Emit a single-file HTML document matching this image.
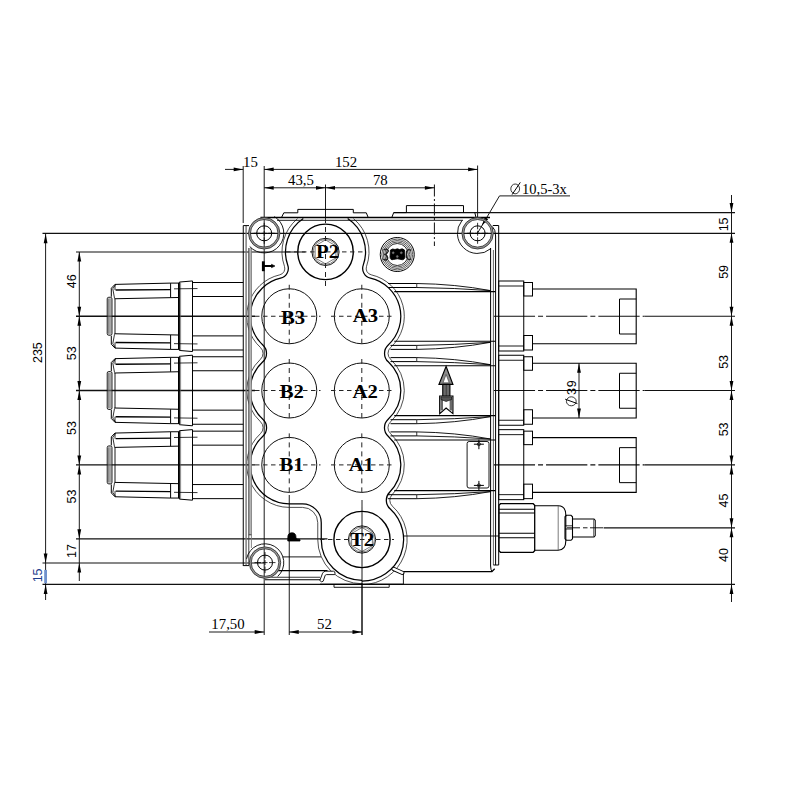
<!DOCTYPE html>
<html><head><meta charset="utf-8"><style>
html,body{margin:0;padding:0;background:#fff;}
svg{display:block;}
</style></head><body>
<svg width="800" height="800" viewBox="0 0 800 800">
<rect width="800" height="800" fill="#fff"/>
<line x1="243.2" y1="166" x2="243.2" y2="223" stroke="#000" stroke-width="0.9"/><line x1="264.2" y1="166" x2="264.2" y2="635" stroke="#000" stroke-width="0.9"/><line x1="477.6" y1="165.5" x2="477.6" y2="217" stroke="#000" stroke-width="0.9"/><line x1="325.5" y1="184.5" x2="325.5" y2="218" stroke="#000" stroke-width="0.9"/><line x1="434.4" y1="184.5" x2="434.4" y2="246" stroke="#111" stroke-width="1.0" stroke-dasharray="12 2.5 2 2.5"/><line x1="225" y1="169.4" x2="243.2" y2="169.4" stroke="#000" stroke-width="0.9"/><path d="M243.2 169.4 L233.7 171.3 L233.7 167.5 Z" fill="#000"/><line x1="264.2" y1="169.4" x2="477.6" y2="169.4" stroke="#000" stroke-width="0.9"/><path d="M264.2 169.4 L273.7 167.5 L273.7 171.3 Z" fill="#000"/><path d="M477.6 169.4 L468.1 171.3 L468.1 167.5 Z" fill="#000"/><line x1="264.2" y1="187.8" x2="434.4" y2="187.8" stroke="#000" stroke-width="0.9"/><path d="M264.2 187.8 L273.7 185.9 L273.7 189.7 Z" fill="#000"/><path d="M325.5 187.8 L316 189.7 L316 185.9 Z" fill="#000"/><path d="M325.5 187.8 L335 185.9 L335 189.7 Z" fill="#000"/><path d="M434.4 187.8 L424.9 189.7 L424.9 185.9 Z" fill="#000"/><text x="250.5" y="166.5" font-family="'Liberation Serif', serif" font-size="14.8" font-weight="normal" text-anchor="middle" fill="#000">15</text><text x="346" y="166.5" font-family="'Liberation Serif', serif" font-size="14.8" font-weight="normal" text-anchor="middle" fill="#000">152</text><text x="301" y="184.8" font-family="'Liberation Serif', serif" font-size="14.8" font-weight="normal" text-anchor="middle" fill="#000">43,5</text><text x="380.3" y="184.8" font-family="'Liberation Serif', serif" font-size="14.8" font-weight="normal" text-anchor="middle" fill="#000">78</text><line x1="477.6" y1="233" x2="499.5" y2="195.9" stroke="#000" stroke-width="0.9"/><line x1="499.5" y1="195.9" x2="570" y2="195.9" stroke="#000" stroke-width="0.9"/><path d="M481.8 225.8 L484.79 217.08 L488.2 219.17 Z" fill="#000"/><ellipse cx="515.2" cy="188.9" rx="4.4" ry="4.9" stroke="#222" stroke-width="0.9" fill="none"/><line x1="520.3" y1="182.4" x2="512.1" y2="194.6" stroke="#000" stroke-width="1.0"/><text x="544.4" y="193.5" font-family="'Liberation Serif', serif" font-size="14.5" font-weight="normal" text-anchor="middle" fill="#000">10,5-3x</text><line x1="731.5" y1="195" x2="731.5" y2="602" stroke="#000" stroke-width="0.9"/><line x1="393.7" y1="212.6" x2="735" y2="212.6" stroke="#111" stroke-width="1.1"/><line x1="42.5" y1="233.3" x2="735" y2="233.3" stroke="#111" stroke-width="1.2"/><path d="M731.5 212.6 L729.6 203.1 L733.4 203.1 Z" fill="#000"/><path d="M731.5 233.3 L733.4 242.8 L729.6 242.8 Z" fill="#000"/><path d="M731.5 316.25 L729.6 306.75 L733.4 306.75 Z" fill="#000"/><path d="M731.5 316.25 L733.4 325.75 L729.6 325.75 Z" fill="#000"/><path d="M731.5 390.5 L729.6 381 L733.4 381 Z" fill="#000"/><path d="M731.5 390.5 L733.4 400 L729.6 400 Z" fill="#000"/><path d="M731.5 464.9 L729.6 455.4 L733.4 455.4 Z" fill="#000"/><path d="M731.5 464.9 L733.4 474.4 L729.6 474.4 Z" fill="#000"/><path d="M731.5 527.8 L729.6 518.3 L733.4 518.3 Z" fill="#000"/><path d="M731.5 527.8 L733.4 537.3 L729.6 537.3 Z" fill="#000"/><path d="M731.5 584.4 L733.4 593.9 L729.6 593.9 Z" fill="#000"/><text x="728" y="224.4" font-family="'Liberation Sans', sans-serif" font-size="12.5" font-weight="normal" text-anchor="middle" fill="#000" transform="rotate(-90 728 224.4)">15</text><text x="728" y="271.9" font-family="'Liberation Sans', sans-serif" font-size="12.5" font-weight="normal" text-anchor="middle" fill="#000" transform="rotate(-90 728 271.9)">59</text><text x="728" y="361.9" font-family="'Liberation Sans', sans-serif" font-size="12.5" font-weight="normal" text-anchor="middle" fill="#000" transform="rotate(-90 728 361.9)">53</text><text x="728" y="429.4" font-family="'Liberation Sans', sans-serif" font-size="12.5" font-weight="normal" text-anchor="middle" fill="#000" transform="rotate(-90 728 429.4)">53</text><text x="728" y="500.6" font-family="'Liberation Sans', sans-serif" font-size="12.5" font-weight="normal" text-anchor="middle" fill="#000" transform="rotate(-90 728 500.6)">45</text><text x="728" y="555" font-family="'Liberation Sans', sans-serif" font-size="12.5" font-weight="normal" text-anchor="middle" fill="#000" transform="rotate(-90 728 555)">40</text><line x1="493.75" y1="316.25" x2="644.5" y2="316.25" stroke="#111" stroke-width="1.1" stroke-dasharray="41.3 3 5 3"/><line x1="644.5" y1="316.25" x2="735" y2="316.25" stroke="#111" stroke-width="1.2"/><line x1="493.75" y1="390.5" x2="644.5" y2="390.5" stroke="#111" stroke-width="1.1" stroke-dasharray="41.3 3 5 3"/><line x1="644.5" y1="390.5" x2="735" y2="390.5" stroke="#111" stroke-width="1.2"/><line x1="493.75" y1="464.9" x2="644.5" y2="464.9" stroke="#111" stroke-width="1.1" stroke-dasharray="41.3 3 5 3"/><line x1="644.5" y1="464.9" x2="735" y2="464.9" stroke="#111" stroke-width="1.2"/><line x1="603.6" y1="527.8" x2="735" y2="527.8" stroke="#111" stroke-width="1.2"/><line x1="42.5" y1="584.4" x2="735" y2="584.4" stroke="#111" stroke-width="1.2"/><line x1="45.6" y1="233.7" x2="45.6" y2="600" stroke="#000" stroke-width="0.9"/><path d="M45.6 233.7 L47.5 243.2 L43.7 243.2 Z" fill="#000"/><path d="M45.6 563 L43.7 553.5 L47.5 553.5 Z" fill="#000"/><path d="M45.6 584.4 L47.5 593.9 L43.7 593.9 Z" fill="#000"/><line x1="79.3" y1="252" x2="79.3" y2="581" stroke="#000" stroke-width="0.9"/><path d="M79.3 252 L81.2 261.5 L77.4 261.5 Z" fill="#000"/><path d="M79.3 316.25 L77.4 306.75 L81.2 306.75 Z" fill="#000"/><path d="M79.3 316.25 L81.2 325.75 L77.4 325.75 Z" fill="#000"/><path d="M79.3 390.5 L77.4 381 L81.2 381 Z" fill="#000"/><path d="M79.3 390.5 L81.2 400 L77.4 400 Z" fill="#000"/><path d="M79.3 464.9 L77.4 455.4 L81.2 455.4 Z" fill="#000"/><path d="M79.3 464.9 L81.2 474.4 L77.4 474.4 Z" fill="#000"/><path d="M79.3 538.8 L77.4 529.3 L81.2 529.3 Z" fill="#000"/><path d="M79.3 563 L81.2 572.5 L77.4 572.5 Z" fill="#000"/><line x1="76" y1="252" x2="305.5" y2="252" stroke="#111" stroke-width="1.2"/><line x1="76" y1="538.8" x2="327.5" y2="538.8" stroke="#111" stroke-width="1.2"/><line x1="42.5" y1="563" x2="264.2" y2="563" stroke="#111" stroke-width="1.2"/><text x="41.8" y="352.6" font-family="'Liberation Sans', sans-serif" font-size="12.5" font-weight="normal" text-anchor="middle" fill="#000" transform="rotate(-90 41.8 352.6)">235</text><text x="41.8" y="575.4" font-family="'Liberation Sans', sans-serif" font-size="12.5" font-weight="normal" text-anchor="middle" fill="#1d3c8c" transform="rotate(-90 41.8 575.4)">15</text><line x1="45.6" y1="569.9" x2="45.6" y2="583.3" stroke="#7092cc" stroke-width="2.8"/><text x="76" y="281.2" font-family="'Liberation Sans', sans-serif" font-size="12.5" font-weight="normal" text-anchor="middle" fill="#000" transform="rotate(-90 76 281.2)">46</text><text x="76" y="353.2" font-family="'Liberation Sans', sans-serif" font-size="12.5" font-weight="normal" text-anchor="middle" fill="#000" transform="rotate(-90 76 353.2)">53</text><text x="76" y="428" font-family="'Liberation Sans', sans-serif" font-size="12.5" font-weight="normal" text-anchor="middle" fill="#000" transform="rotate(-90 76 428)">53</text><text x="76" y="496.6" font-family="'Liberation Sans', sans-serif" font-size="12.5" font-weight="normal" text-anchor="middle" fill="#000" transform="rotate(-90 76 496.6)">53</text><text x="76" y="551" font-family="'Liberation Sans', sans-serif" font-size="12.5" font-weight="normal" text-anchor="middle" fill="#000" transform="rotate(-90 76 551)">17</text><line x1="76" y1="316.25" x2="255" y2="316.25" stroke="#111" stroke-width="1.3"/><line x1="76" y1="390.5" x2="255" y2="390.5" stroke="#111" stroke-width="1.3"/><line x1="76" y1="464.9" x2="255" y2="464.9" stroke="#111" stroke-width="1.3"/><line x1="289.25" y1="495" x2="289.25" y2="635" stroke="#000" stroke-width="0.9"/><line x1="362" y1="583" x2="362" y2="635" stroke="#000" stroke-width="0.9"/><line x1="209" y1="632" x2="264.2" y2="632" stroke="#000" stroke-width="0.9"/><path d="M264.2 632 L254.7 633.9 L254.7 630.1 Z" fill="#000"/><line x1="289.25" y1="632" x2="362" y2="632" stroke="#000" stroke-width="0.9"/><path d="M289.25 632 L298.75 630.1 L298.75 633.9 Z" fill="#000"/><path d="M362 632 L352.5 633.9 L352.5 630.1 Z" fill="#000"/><text x="228" y="628.5" font-family="'Liberation Serif', serif" font-size="14.8" font-weight="normal" text-anchor="middle" fill="#000">17,50</text><text x="324.5" y="628.5" font-family="'Liberation Serif', serif" font-size="14.8" font-weight="normal" text-anchor="middle" fill="#000">52</text><path d="M347.66 218.6 A40 40 0 0 1 363.24 265.16 A10 10 0 0 0 370.45 278.22 A39 39 0 0 1 388.24 344.92 A11.5 11.5 0 0 0 388.24 361.83 A39 39 0 0 1 388.18 419.23 A11.5 11.5 0 0 0 388.18 436.17 A39 39 0 0 1 389.61 492.24 A11.5 11.5 0 0 0 390.06 508.79 A41.6 41.6 0 0 1 362 581.1" stroke="#000" stroke-width="1.25" fill="none"/><path d="M303.34 218.6 A40 40 0 0 0 287.76 265.17 A10 10 0 0 1 280.56 278.23 A39 39 0 0 0 262.81 344.92 A11.5 11.5 0 0 1 262.81 361.83 A39 39 0 0 0 262.87 419.23 A11.5 11.5 0 0 1 262.87 436.17 A39 39 0 0 0 289.25 503.9 L302.5 503.9 A18.75 18.75 0 0 1 321.25 522.65 L321.25 539.5 A40.75 40.75 0 0 0 362 580.25" stroke="#000" stroke-width="1.25" fill="none"/><path d="M353.49 218.6 A43.5 43.5 0 0 1 366.54 266.32 A6.5 6.5 0 0 0 371.23 274.81 A42.5 42.5 0 0 1 390.61 347.49 A8 8 0 0 0 390.61 359.26 A42.5 42.5 0 0 1 390.54 421.81 A8 8 0 0 0 390.54 433.59 A42.5 42.5 0 0 1 392.11 494.69 A8 8 0 0 0 392.42 506.2 A45.1 45.1 0 0 1 362 584.6" stroke="#222" stroke-width="0.8" fill="none"/><path d="M297.51 218.6 A43.5 43.5 0 0 0 284.46 266.33 A6.5 6.5 0 0 1 279.78 274.82 A42.5 42.5 0 0 0 260.44 347.49 A8 8 0 0 1 260.44 359.26 A42.5 42.5 0 0 0 260.51 421.81 A8 8 0 0 1 260.51 433.59 A42.5 42.5 0 0 0 289.25 507.4 L302.5 507.4 A15.25 15.25 0 0 1 317.75 522.65 L317.75 539.5 A44.25 44.25 0 0 0 362 583.75" stroke="#222" stroke-width="0.8" fill="none"/><line x1="243.25" y1="225.6" x2="243.25" y2="566" stroke="#000" stroke-width="1.0"/><line x1="246.1" y1="226" x2="246.1" y2="565" stroke="#777" stroke-width="1.4"/><line x1="250.1" y1="248" x2="250.1" y2="535" stroke="#bbb" stroke-width="2.6"/><line x1="248.8" y1="248" x2="248.8" y2="565" stroke="#444" stroke-width="1.0"/><line x1="251.4" y1="248" x2="251.4" y2="548" stroke="#777" stroke-width="0.9"/><line x1="248.8" y1="534.8" x2="251.4" y2="534.8" stroke="#333" stroke-width="0.9"/><line x1="243.25" y1="565.6" x2="249" y2="565.6" stroke="#000" stroke-width="1.0"/><line x1="243.25" y1="225.6" x2="249" y2="225.6" stroke="#000" stroke-width="1.0"/><path d="M490.6 248 L490.6 566 Q490.8 570 491.9 571.6" stroke="#000" stroke-width="1.0" fill="none"/><line x1="493.4" y1="250" x2="493.4" y2="565" stroke="#555" stroke-width="0.9"/><path d="M492.3 226.5 Q495.6 229.5 495.6 236 L495.6 565" stroke="#000" stroke-width="1.0" fill="none"/><line x1="498.7" y1="225.5" x2="498.7" y2="565" stroke="#000" stroke-width="1.0"/><line x1="493.4" y1="565" x2="498.7" y2="565" stroke="#000" stroke-width="1.0"/><path d="M403 571.6 L491.9 571.6 L494.7 568.75" stroke="#000" stroke-width="1.3" fill="none"/><line x1="282.5" y1="556.9" x2="321.25" y2="556.9" stroke="#000" stroke-width="0.9"/><line x1="277.5" y1="570.6" x2="327.5" y2="570.6" stroke="#000" stroke-width="1.2"/><line x1="271.25" y1="577.25" x2="320" y2="577.25" stroke="#000" stroke-width="0.8"/><line x1="265" y1="579.75" x2="320" y2="579.75" stroke="#000" stroke-width="1.2"/><path d="M319.8 580.5 L322.6 573.2 Q323.6 571.2 325.8 571.2 L333.5 571.2 Q335.2 571.4 335 573.4 L334.6 574.6 L326.5 574.6 Q325.4 574.6 325 575.8 L323.2 581.2 Q321.8 582.8 319.8 580.5 Z" stroke="#000" stroke-width="0.9" fill="#fff"/><rect x="391.5" y="569.2" width="13" height="3.4" rx="1.7" ry="1.7" transform="rotate(24 398 570.9)" stroke="#000" stroke-width="0.9" fill="#fff"/><line x1="403.4" y1="573.5" x2="403.4" y2="584.2" stroke="#000" stroke-width="0.9"/><path d="M334 584.2 L334 587.3 L389.2 587.3 L389.2 584.2" stroke="#000" stroke-width="0.9" fill="none"/><line x1="320" y1="584.2" x2="403.2" y2="584.2" stroke="#000" stroke-width="1.0"/><line x1="492.8" y1="225.5" x2="498.7" y2="225.5" stroke="#000" stroke-width="1.0"/><line x1="260.5" y1="217.5" x2="490" y2="217.5" stroke="#000" stroke-width="1.3"/><line x1="277" y1="220.3" x2="463" y2="220.3" stroke="#000" stroke-width="0.9"/><path d="M283.8 212.8 L297.8 212.8 L297.8 209.4 L353.3 209.4 L353.3 212.8 L366.3 212.8 L368.2 217.5" stroke="#000" stroke-width="1.0" fill="none"/><line x1="283.8" y1="212.8" x2="281.5" y2="217.5" stroke="#000" stroke-width="1.0"/><path d="M393.7 212.6 L406.4 212.6 L406.4 205.6 L463.5 205.6 L463.5 212.6" stroke="#000" stroke-width="1.0" fill="none"/><line x1="393.7" y1="212.6" x2="391.8" y2="217.5" stroke="#000" stroke-width="1.0"/><line x1="474.8" y1="212.6" x2="476" y2="217.5" stroke="#000" stroke-width="1.0"/><circle cx="264.2" cy="233.3" r="7.5" stroke="#000" stroke-width="1.0" fill="none"/><circle cx="264.2" cy="233.3" r="14.75" stroke="#999" stroke-width="1.9" fill="none"/><circle cx="264.2" cy="233.3" r="13.8" stroke="#222" stroke-width="0.8" fill="none"/><circle cx="264.2" cy="233.3" r="15.7" stroke="#333" stroke-width="0.9" fill="none"/><circle cx="477.6" cy="233.3" r="7.5" stroke="#000" stroke-width="1.0" fill="none"/><circle cx="477.6" cy="233.3" r="14.75" stroke="#999" stroke-width="1.9" fill="none"/><circle cx="477.6" cy="233.3" r="13.8" stroke="#222" stroke-width="0.8" fill="none"/><circle cx="477.6" cy="233.3" r="15.7" stroke="#333" stroke-width="0.9" fill="none"/><circle cx="265" cy="562.6" r="7.5" stroke="#000" stroke-width="1.0" fill="none"/><circle cx="265" cy="562.6" r="14.75" stroke="#999" stroke-width="1.9" fill="none"/><circle cx="265" cy="562.6" r="13.8" stroke="#222" stroke-width="0.8" fill="none"/><circle cx="265" cy="562.6" r="15.7" stroke="#333" stroke-width="0.9" fill="none"/><path d="M274.29 216.5 A19.6 19.6 0 1 1 249.73 246.52" stroke="#000" stroke-width="0.9" fill="none"/><path d="M461.9 220.59 A20.2 20.2 0 0 0 490.69 248.68" stroke="#000" stroke-width="0.9" fill="none"/><path d="M246.58 558.82 A18.8 18.8 0 1 1 277.7 576.46" stroke="#000" stroke-width="0.9" fill="none"/><line x1="253.7" y1="233.3" x2="260.2" y2="233.3" stroke="#000" stroke-width="0.8"/><line x1="268.2" y1="233.3" x2="274.7" y2="233.3" stroke="#000" stroke-width="0.8"/><line x1="264.2" y1="222.8" x2="264.2" y2="229.3" stroke="#000" stroke-width="0.8"/><line x1="264.2" y1="237.3" x2="264.2" y2="243.8" stroke="#000" stroke-width="0.8"/><line x1="261.7" y1="233.3" x2="266.7" y2="233.3" stroke="#000" stroke-width="0.8"/><line x1="264.2" y1="230.8" x2="264.2" y2="235.8" stroke="#000" stroke-width="0.8"/><line x1="467.1" y1="233.3" x2="473.6" y2="233.3" stroke="#000" stroke-width="0.8"/><line x1="481.6" y1="233.3" x2="488.1" y2="233.3" stroke="#000" stroke-width="0.8"/><line x1="477.6" y1="222.8" x2="477.6" y2="229.3" stroke="#000" stroke-width="0.8"/><line x1="477.6" y1="237.3" x2="477.6" y2="243.8" stroke="#000" stroke-width="0.8"/><line x1="475.1" y1="233.3" x2="480.1" y2="233.3" stroke="#000" stroke-width="0.8"/><line x1="477.6" y1="230.8" x2="477.6" y2="235.8" stroke="#000" stroke-width="0.8"/><line x1="254.5" y1="562.6" x2="261" y2="562.6" stroke="#000" stroke-width="0.8"/><line x1="269" y1="562.6" x2="275.5" y2="562.6" stroke="#000" stroke-width="0.8"/><line x1="265" y1="552.1" x2="265" y2="558.6" stroke="#000" stroke-width="0.8"/><line x1="265" y1="566.6" x2="265" y2="573.1" stroke="#000" stroke-width="0.8"/><line x1="262.5" y1="562.6" x2="267.5" y2="562.6" stroke="#000" stroke-width="0.8"/><line x1="265" y1="560.1" x2="265" y2="565.1" stroke="#000" stroke-width="0.8"/><circle cx="289.25" cy="316.25" r="27.5" stroke="#111" stroke-width="1.0" fill="none"/><line x1="289.25" y1="284.75" x2="289.25" y2="347.75" stroke="#222" stroke-width="1.0" stroke-dasharray="5 4"/><circle cx="361.8" cy="316.25" r="27.5" stroke="#111" stroke-width="1.0" fill="none"/><line x1="361.8" y1="284.75" x2="361.8" y2="347.75" stroke="#222" stroke-width="1.0" stroke-dasharray="5 4"/><circle cx="289.25" cy="390.5" r="27.5" stroke="#111" stroke-width="1.0" fill="none"/><line x1="289.25" y1="359" x2="289.25" y2="422" stroke="#222" stroke-width="1.0" stroke-dasharray="5 4"/><circle cx="361.8" cy="390.5" r="27.5" stroke="#111" stroke-width="1.0" fill="none"/><line x1="361.8" y1="359" x2="361.8" y2="422" stroke="#222" stroke-width="1.0" stroke-dasharray="5 4"/><circle cx="289.25" cy="464.9" r="27.5" stroke="#111" stroke-width="1.0" fill="none"/><line x1="289.25" y1="433.4" x2="289.25" y2="496.4" stroke="#222" stroke-width="1.0" stroke-dasharray="5 4"/><circle cx="361.8" cy="464.9" r="27.5" stroke="#111" stroke-width="1.0" fill="none"/><line x1="361.8" y1="433.4" x2="361.8" y2="496.4" stroke="#222" stroke-width="1.0" stroke-dasharray="5 4"/><line x1="255" y1="316.25" x2="320.5" y2="316.25" stroke="#222" stroke-width="1.0" stroke-dasharray="4.5 3.5"/><line x1="331" y1="316.25" x2="394" y2="316.25" stroke="#222" stroke-width="1.0" stroke-dasharray="4.5 3.5"/><line x1="255" y1="390.5" x2="320.5" y2="390.5" stroke="#222" stroke-width="1.0" stroke-dasharray="4.5 3.5"/><line x1="331" y1="390.5" x2="394" y2="390.5" stroke="#222" stroke-width="1.0" stroke-dasharray="4.5 3.5"/><line x1="255" y1="464.9" x2="320.5" y2="464.9" stroke="#222" stroke-width="1.0" stroke-dasharray="4.5 3.5"/><line x1="331" y1="464.9" x2="394" y2="464.9" stroke="#222" stroke-width="1.0" stroke-dasharray="4.5 3.5"/><circle cx="325.5" cy="251.9" r="27.75" stroke="#000" stroke-width="1.4" fill="none"/><circle cx="325.5" cy="251.9" r="13.6" stroke="#111" stroke-width="1.0" fill="none"/><circle cx="325.5" cy="251.9" r="12.4" stroke="#555" stroke-width="0.7" fill="none"/><path d="M325.5 263.9 L315.11 257.9 L315.11 245.9 L325.5 239.9 L335.89 245.9 L335.89 257.9 Z" stroke="#444" stroke-width="0.7" fill="none"/><circle cx="362" cy="539.5" r="28.1" stroke="#000" stroke-width="1.4" fill="none"/><circle cx="362" cy="539.5" r="13.6" stroke="#111" stroke-width="1.0" fill="none"/><circle cx="362" cy="539.5" r="12.4" stroke="#555" stroke-width="0.7" fill="none"/><path d="M362 551.5 L351.61 545.5 L351.61 533.5 L362 527.5 L372.39 533.5 L372.39 545.5 Z" stroke="#444" stroke-width="0.7" fill="none"/><line x1="325.5" y1="218" x2="325.5" y2="288" stroke="#222" stroke-width="1.0" stroke-dasharray="5 4"/><line x1="286" y1="251.9" x2="364" y2="251.9" stroke="#222" stroke-width="1.0" stroke-dasharray="4.5 3.5"/><line x1="362" y1="500" x2="362" y2="507" stroke="#222" stroke-width="1.0"/><line x1="362" y1="507" x2="362" y2="635" stroke="#000" stroke-width="0.9"/><line x1="320" y1="539.5" x2="394" y2="539.5" stroke="#222" stroke-width="1.0" stroke-dasharray="4.5 3.5"/><line x1="404" y1="536" x2="499" y2="536" stroke="#000" stroke-width="0.9"/><text x="327.6" y="258" font-family="'Liberation Serif', serif" font-size="18.5" font-weight="bold" text-anchor="middle" fill="#000" transform="translate(327.6 0) scale(1.12 1) translate(-327.6 0)">P2</text><text x="293" y="323.7" font-family="'Liberation Serif', serif" font-size="18.5" font-weight="bold" text-anchor="middle" fill="#000" transform="translate(293 0) scale(1.12 1) translate(-293 0)">B3</text><text x="365.5" y="321.7" font-family="'Liberation Serif', serif" font-size="18.5" font-weight="bold" text-anchor="middle" fill="#000" transform="translate(365.5 0) scale(1.12 1) translate(-365.5 0)">A3</text><text x="291.8" y="398" font-family="'Liberation Serif', serif" font-size="18.5" font-weight="bold" text-anchor="middle" fill="#000" transform="translate(291.8 0) scale(1.12 1) translate(-291.8 0)">B2</text><text x="365.2" y="398" font-family="'Liberation Serif', serif" font-size="18.5" font-weight="bold" text-anchor="middle" fill="#000" transform="translate(365.2 0) scale(1.12 1) translate(-365.2 0)">A2</text><text x="291.5" y="471.5" font-family="'Liberation Serif', serif" font-size="18.5" font-weight="bold" text-anchor="middle" fill="#000" transform="translate(291.5 0) scale(1.12 1) translate(-291.5 0)">B1</text><text x="361.3" y="471.5" font-family="'Liberation Serif', serif" font-size="18.5" font-weight="bold" text-anchor="middle" fill="#000" transform="translate(361.3 0) scale(1.12 1) translate(-361.3 0)">A1</text><text x="362.1" y="546.3" font-family="'Liberation Serif', serif" font-size="18.5" font-weight="bold" text-anchor="middle" fill="#000" transform="translate(362.1 0) scale(1.12 1) translate(-362.1 0)">T2</text><path d="M170.6 283.1 L115 284.4 L111.3 288.25 L111.3 296.75 M111.3 335.75 L111.3 344.25 L115 348.1 L170.6 349.4" stroke="#000" stroke-width="1.0" fill="none"/><rect x="107.2" y="297.25" width="4.8" height="38" rx="1.6" ry="1.6" stroke="#111" stroke-width="0.9" fill="#999" fill-opacity="0.5"/><line x1="108.6" y1="298.75" x2="108.6" y2="333.75" stroke="#555" stroke-width="0.6"/><line x1="110" y1="298.75" x2="110" y2="333.75" stroke="#555" stroke-width="0.6"/><path d="M115.5 284.75 L112.8 288.75 L114.5 298.25" stroke="#000" stroke-width="0.8" fill="none"/><path d="M115.5 347.75 L112.8 343.75 L114.5 334.25" stroke="#000" stroke-width="0.8" fill="none"/><line x1="115" y1="298.75" x2="115" y2="333.75" stroke="#000" stroke-width="0.9"/><line x1="115.6" y1="290" x2="170.6" y2="289.55" stroke="#000" stroke-width="1.3"/><line x1="115.6" y1="342.5" x2="170.6" y2="342.95" stroke="#000" stroke-width="1.3"/><line x1="114.4" y1="298.75" x2="178" y2="297.5" stroke="#000" stroke-width="1.0"/><line x1="114.4" y1="333.75" x2="178" y2="335" stroke="#000" stroke-width="1.0"/><line x1="115" y1="284.4" x2="115" y2="290" stroke="#000" stroke-width="0.8"/><line x1="115" y1="348.1" x2="115" y2="342.5" stroke="#000" stroke-width="0.8"/><line x1="170.6" y1="283.1" x2="170.6" y2="297.5" stroke="#000" stroke-width="1.0"/><line x1="170.6" y1="349.4" x2="170.6" y2="335" stroke="#000" stroke-width="1.0"/><line x1="170.6" y1="283.1" x2="178.6" y2="283.1" stroke="#000" stroke-width="1.0"/><line x1="170.6" y1="349.4" x2="178.6" y2="349.4" stroke="#000" stroke-width="1.0"/><line x1="178.5" y1="282.75" x2="178.5" y2="349.75" stroke="#000" stroke-width="1.0"/><path d="M179.4 282.05 L192.5 280.95 L192.5 351.55 L179.4 350.45 Z" stroke="#000" stroke-width="1.0" fill="none"/><line x1="180.6" y1="282.25" x2="180.6" y2="350.25" stroke="#555" stroke-width="0.7"/><line x1="174" y1="288.85" x2="197.5" y2="288.55" stroke="#000" stroke-width="0.8"/><line x1="174" y1="343.65" x2="197.5" y2="343.95" stroke="#000" stroke-width="0.8"/><line x1="192.5" y1="282.5" x2="243.2" y2="282.5" stroke="#000" stroke-width="1.0"/><line x1="192.5" y1="296.5" x2="243.2" y2="296.5" stroke="#000" stroke-width="1.0"/><line x1="192.5" y1="335.9" x2="243.2" y2="335.9" stroke="#000" stroke-width="1.0"/><line x1="192.5" y1="350" x2="243.2" y2="350" stroke="#000" stroke-width="1.0"/><path d="M170.6 357.35 L115 358.65 L111.3 362.5 L111.3 371 M111.3 410 L111.3 418.5 L115 422.35 L170.6 423.65" stroke="#000" stroke-width="1.0" fill="none"/><rect x="107.2" y="371.5" width="4.8" height="38" rx="1.6" ry="1.6" stroke="#111" stroke-width="0.9" fill="#999" fill-opacity="0.5"/><line x1="108.6" y1="373" x2="108.6" y2="408" stroke="#555" stroke-width="0.6"/><line x1="110" y1="373" x2="110" y2="408" stroke="#555" stroke-width="0.6"/><path d="M115.5 359 L112.8 363 L114.5 372.5" stroke="#000" stroke-width="0.8" fill="none"/><path d="M115.5 422 L112.8 418 L114.5 408.5" stroke="#000" stroke-width="0.8" fill="none"/><line x1="115" y1="373" x2="115" y2="408" stroke="#000" stroke-width="0.9"/><line x1="115.6" y1="364.25" x2="170.6" y2="363.8" stroke="#000" stroke-width="1.3"/><line x1="115.6" y1="416.75" x2="170.6" y2="417.2" stroke="#000" stroke-width="1.3"/><line x1="114.4" y1="373" x2="178" y2="371.75" stroke="#000" stroke-width="1.0"/><line x1="114.4" y1="408" x2="178" y2="409.25" stroke="#000" stroke-width="1.0"/><line x1="115" y1="358.65" x2="115" y2="364.25" stroke="#000" stroke-width="0.8"/><line x1="115" y1="422.35" x2="115" y2="416.75" stroke="#000" stroke-width="0.8"/><line x1="170.6" y1="357.35" x2="170.6" y2="371.75" stroke="#000" stroke-width="1.0"/><line x1="170.6" y1="423.65" x2="170.6" y2="409.25" stroke="#000" stroke-width="1.0"/><line x1="170.6" y1="357.35" x2="178.6" y2="357.35" stroke="#000" stroke-width="1.0"/><line x1="170.6" y1="423.65" x2="178.6" y2="423.65" stroke="#000" stroke-width="1.0"/><line x1="178.5" y1="357" x2="178.5" y2="424" stroke="#000" stroke-width="1.0"/><path d="M179.4 356.3 L192.5 355.2 L192.5 425.8 L179.4 424.7 Z" stroke="#000" stroke-width="1.0" fill="none"/><line x1="180.6" y1="356.5" x2="180.6" y2="424.5" stroke="#555" stroke-width="0.7"/><line x1="174" y1="363.1" x2="197.5" y2="362.8" stroke="#000" stroke-width="0.8"/><line x1="174" y1="417.9" x2="197.5" y2="418.2" stroke="#000" stroke-width="0.8"/><line x1="192.5" y1="356.75" x2="243.2" y2="356.75" stroke="#000" stroke-width="1.0"/><line x1="192.5" y1="370.75" x2="243.2" y2="370.75" stroke="#000" stroke-width="1.0"/><line x1="192.5" y1="410.15" x2="243.2" y2="410.15" stroke="#000" stroke-width="1.0"/><line x1="192.5" y1="424.25" x2="243.2" y2="424.25" stroke="#000" stroke-width="1.0"/><path d="M170.6 431.75 L115 433.05 L111.3 436.9 L111.3 445.4 M111.3 484.4 L111.3 492.9 L115 496.75 L170.6 498.05" stroke="#000" stroke-width="1.0" fill="none"/><rect x="107.2" y="445.9" width="4.8" height="38" rx="1.6" ry="1.6" stroke="#111" stroke-width="0.9" fill="#999" fill-opacity="0.5"/><line x1="108.6" y1="447.4" x2="108.6" y2="482.4" stroke="#555" stroke-width="0.6"/><line x1="110" y1="447.4" x2="110" y2="482.4" stroke="#555" stroke-width="0.6"/><path d="M115.5 433.4 L112.8 437.4 L114.5 446.9" stroke="#000" stroke-width="0.8" fill="none"/><path d="M115.5 496.4 L112.8 492.4 L114.5 482.9" stroke="#000" stroke-width="0.8" fill="none"/><line x1="115" y1="447.4" x2="115" y2="482.4" stroke="#000" stroke-width="0.9"/><line x1="115.6" y1="438.65" x2="170.6" y2="438.2" stroke="#000" stroke-width="1.3"/><line x1="115.6" y1="491.15" x2="170.6" y2="491.6" stroke="#000" stroke-width="1.3"/><line x1="114.4" y1="447.4" x2="178" y2="446.15" stroke="#000" stroke-width="1.0"/><line x1="114.4" y1="482.4" x2="178" y2="483.65" stroke="#000" stroke-width="1.0"/><line x1="115" y1="433.05" x2="115" y2="438.65" stroke="#000" stroke-width="0.8"/><line x1="115" y1="496.75" x2="115" y2="491.15" stroke="#000" stroke-width="0.8"/><line x1="170.6" y1="431.75" x2="170.6" y2="446.15" stroke="#000" stroke-width="1.0"/><line x1="170.6" y1="498.05" x2="170.6" y2="483.65" stroke="#000" stroke-width="1.0"/><line x1="170.6" y1="431.75" x2="178.6" y2="431.75" stroke="#000" stroke-width="1.0"/><line x1="170.6" y1="498.05" x2="178.6" y2="498.05" stroke="#000" stroke-width="1.0"/><line x1="178.5" y1="431.4" x2="178.5" y2="498.4" stroke="#000" stroke-width="1.0"/><path d="M179.4 430.7 L192.5 429.6 L192.5 500.2 L179.4 499.1 Z" stroke="#000" stroke-width="1.0" fill="none"/><line x1="180.6" y1="430.9" x2="180.6" y2="498.9" stroke="#555" stroke-width="0.7"/><line x1="174" y1="437.5" x2="197.5" y2="437.2" stroke="#000" stroke-width="0.8"/><line x1="174" y1="492.3" x2="197.5" y2="492.6" stroke="#000" stroke-width="0.8"/><line x1="192.5" y1="431.15" x2="243.2" y2="431.15" stroke="#000" stroke-width="1.0"/><line x1="192.5" y1="445.15" x2="243.2" y2="445.15" stroke="#000" stroke-width="1.0"/><line x1="192.5" y1="484.55" x2="243.2" y2="484.55" stroke="#000" stroke-width="1.0"/><line x1="192.5" y1="498.65" x2="243.2" y2="498.65" stroke="#000" stroke-width="1.0"/><rect x="498.7" y="281" width="25.05" height="70" stroke="#000" stroke-width="1.0" fill="none"/><line x1="498.7" y1="286" x2="523.75" y2="286" stroke="#000" stroke-width="0.9"/><line x1="498.7" y1="346" x2="523.75" y2="346" stroke="#000" stroke-width="0.9"/><rect x="523.75" y="282.5" width="8.75" height="13.5" stroke="#000" stroke-width="1.0" fill="none"/><rect x="523.75" y="335.5" width="8.75" height="14.5" stroke="#000" stroke-width="1.0" fill="none"/><path d="M532.5 289 L636.2 289 L636.2 343.75 L532.5 343.75" stroke="#000" stroke-width="1.1" fill="none"/><path d="M636.2 299 L619.5 299 L619.5 334 L636.2 334" stroke="#000" stroke-width="1.0" fill="none"/><rect x="498.7" y="355.25" width="25.05" height="70" stroke="#000" stroke-width="1.0" fill="none"/><line x1="498.7" y1="360.25" x2="523.75" y2="360.25" stroke="#000" stroke-width="0.9"/><line x1="498.7" y1="420.25" x2="523.75" y2="420.25" stroke="#000" stroke-width="0.9"/><rect x="523.75" y="356.75" width="8.75" height="13.5" stroke="#000" stroke-width="1.0" fill="none"/><rect x="523.75" y="409.75" width="8.75" height="14.5" stroke="#000" stroke-width="1.0" fill="none"/><path d="M532.5 363.25 L636.2 363.25 L636.2 418 L532.5 418" stroke="#000" stroke-width="1.1" fill="none"/><path d="M636.2 373.25 L619.5 373.25 L619.5 408.25 L636.2 408.25" stroke="#000" stroke-width="1.0" fill="none"/><rect x="498.7" y="429.65" width="25.05" height="70" stroke="#000" stroke-width="1.0" fill="none"/><line x1="498.7" y1="434.65" x2="523.75" y2="434.65" stroke="#000" stroke-width="0.9"/><line x1="498.7" y1="494.65" x2="523.75" y2="494.65" stroke="#000" stroke-width="0.9"/><rect x="523.75" y="431.15" width="8.75" height="13.5" stroke="#000" stroke-width="1.0" fill="none"/><rect x="523.75" y="484.15" width="8.75" height="14.5" stroke="#000" stroke-width="1.0" fill="none"/><path d="M532.5 437.65 L636.2 437.65 L636.2 492.4 L532.5 492.4" stroke="#000" stroke-width="1.1" fill="none"/><path d="M636.2 447.65 L619.5 447.65 L619.5 482.65 L636.2 482.65" stroke="#000" stroke-width="1.0" fill="none"/><line x1="579" y1="363.25" x2="579" y2="418" stroke="#000" stroke-width="0.9"/><path d="M579 363.25 L580.9 372.75 L577.1 372.75 Z" fill="#000"/><path d="M579 418 L577.1 408.5 L580.9 408.5 Z" fill="#000"/><text x="575.8" y="387.2" font-family="'Liberation Sans', sans-serif" font-size="12.5" font-weight="normal" text-anchor="middle" fill="#000" transform="rotate(-90 575.8 387.2)" letter-spacing="0.8">39</text><ellipse cx="571.3" cy="401.3" rx="4.9" ry="4.5" stroke="#222" stroke-width="0.9" fill="none"/><line x1="565.2" y1="399.2" x2="577.4" y2="403.6" stroke="#000" stroke-width="1.0"/><path d="M500.5 503.7 L533.2 503.7 L534.7 505.2 L534.7 550.8 L533.2 552.3 L500.5 552.3 L499 550.8 L499 505.2 Z" stroke="#000" stroke-width="1.3" fill="none"/><line x1="499" y1="509.25" x2="534.7" y2="509.25" stroke="#000" stroke-width="1.0"/><line x1="499" y1="513" x2="534.7" y2="513" stroke="#000" stroke-width="1.0"/><line x1="499" y1="533.25" x2="534.7" y2="533.25" stroke="#000" stroke-width="1.0"/><line x1="499" y1="537.75" x2="534.7" y2="537.75" stroke="#000" stroke-width="1.0"/><path d="M534.7 505.8 L558.2 505.8 Q565.8 506 565.8 515 L565.8 541 Q565.8 550 558.2 550.2 L534.7 550.2" stroke="#000" stroke-width="1.1" fill="none"/><line x1="558.2" y1="505.8" x2="558.2" y2="550.2" stroke="#444" stroke-width="0.7"/><path d="M566.5 515.3 L571 515.3 L572.5 516.8 L572.5 538.8 L571 540.3 L566.5 540.3 L565 538.8 L565 516.8 Z" stroke="#000" stroke-width="1.1" fill="none"/><line x1="565" y1="525.8" x2="572.5" y2="525.8" stroke="#000" stroke-width="0.8"/><line x1="565" y1="529" x2="572.5" y2="529" stroke="#000" stroke-width="0.8"/><path d="M572.5 519 L594 519 L595.2 520.5 L595.2 535.5 L594 537 L572.5 537" stroke="#000" stroke-width="1.1" fill="none"/><line x1="593.5" y1="519" x2="593.5" y2="537" stroke="#444" stroke-width="0.7"/><line x1="567" y1="527.8" x2="603.6" y2="527.8" stroke="#000" stroke-width="0.9" stroke-dasharray="13 3 4.5 2.5"/><line x1="394.25" y1="291.6" x2="495.5" y2="291.6" stroke="#000" stroke-width="1.1"/><line x1="388" y1="283.5" x2="416.75" y2="283.5" stroke="#000" stroke-width="1.0"/><path d="M416.75 283.5 Q455 284 490.5 290.6" stroke="#000" stroke-width="0.9" fill="none"/><line x1="388" y1="287.5" x2="416.75" y2="287.5" stroke="#000" stroke-width="1.0"/><path d="M416.75 287.5 Q455 288 490.5 290.6" stroke="#000" stroke-width="0.9" fill="none"/><line x1="416.75" y1="283.5" x2="416.75" y2="287.5" stroke="#000" stroke-width="0.8"/><line x1="394.25" y1="341.3" x2="495.5" y2="341.3" stroke="#000" stroke-width="1.1"/><line x1="390.5" y1="349.4" x2="416.75" y2="349.4" stroke="#000" stroke-width="1.0"/><path d="M416.75 349.4 Q455 348.9 490.5 342.3" stroke="#000" stroke-width="0.9" fill="none"/><line x1="390.5" y1="345.4" x2="416.75" y2="345.4" stroke="#000" stroke-width="1.0"/><path d="M416.75 345.4 Q455 344.9 490.5 342.3" stroke="#000" stroke-width="0.9" fill="none"/><line x1="416.75" y1="349.4" x2="416.75" y2="345.4" stroke="#000" stroke-width="0.8"/><line x1="394.25" y1="365.7" x2="495.5" y2="365.7" stroke="#000" stroke-width="1.1"/><line x1="390.5" y1="357.6" x2="416.75" y2="357.6" stroke="#000" stroke-width="1.0"/><path d="M416.75 357.6 Q455 358.1 490.5 364.7" stroke="#000" stroke-width="0.9" fill="none"/><line x1="390.5" y1="361.6" x2="416.75" y2="361.6" stroke="#000" stroke-width="1.0"/><path d="M416.75 361.6 Q455 362.1 490.5 364.7" stroke="#000" stroke-width="0.9" fill="none"/><line x1="416.75" y1="357.6" x2="416.75" y2="361.6" stroke="#000" stroke-width="0.8"/><line x1="394.25" y1="415.6" x2="495.5" y2="415.6" stroke="#000" stroke-width="1.1"/><line x1="390.5" y1="423.7" x2="416.75" y2="423.7" stroke="#000" stroke-width="1.0"/><path d="M416.75 423.7 Q455 423.2 490.5 416.6" stroke="#000" stroke-width="0.9" fill="none"/><line x1="390.5" y1="419.7" x2="416.75" y2="419.7" stroke="#000" stroke-width="1.0"/><path d="M416.75 419.7 Q455 419.2 490.5 416.6" stroke="#000" stroke-width="0.9" fill="none"/><line x1="416.75" y1="423.7" x2="416.75" y2="419.7" stroke="#000" stroke-width="0.8"/><line x1="394.25" y1="440" x2="495.5" y2="440" stroke="#000" stroke-width="1.1"/><line x1="390.5" y1="431.9" x2="416.75" y2="431.9" stroke="#000" stroke-width="1.0"/><path d="M416.75 431.9 Q455 432.4 490.5 439" stroke="#000" stroke-width="0.9" fill="none"/><line x1="390.5" y1="435.9" x2="416.75" y2="435.9" stroke="#000" stroke-width="1.0"/><path d="M416.75 435.9 Q455 436.4 490.5 439" stroke="#000" stroke-width="0.9" fill="none"/><line x1="416.75" y1="431.9" x2="416.75" y2="435.9" stroke="#000" stroke-width="0.8"/><line x1="394.25" y1="490.6" x2="495.5" y2="490.6" stroke="#000" stroke-width="1.1"/><line x1="388" y1="498.7" x2="416.75" y2="498.7" stroke="#000" stroke-width="1.0"/><path d="M416.75 498.7 Q455 498.2 490.5 491.6" stroke="#000" stroke-width="0.9" fill="none"/><line x1="388" y1="494.7" x2="416.75" y2="494.7" stroke="#000" stroke-width="1.0"/><path d="M416.75 494.7 Q455 494.2 490.5 491.6" stroke="#000" stroke-width="0.9" fill="none"/><line x1="416.75" y1="498.7" x2="416.75" y2="494.7" stroke="#000" stroke-width="0.8"/><path d="M446.1 366.4 L452.9 384.4 L439 384.4 Z" stroke="#000" stroke-width="1.2" fill="#8a8a8a"/><path d="M446.1 374.5 L449.2 382.8 L443 382.8 Z" stroke="#333" stroke-width="0.6" fill="#fff"/><rect x="442.75" y="384.4" width="7.15" height="12.4" stroke="#000" stroke-width="1.1" fill="#6a6a6a"/><line x1="446.3" y1="385" x2="446.3" y2="396" stroke="#444" stroke-width="1.2"/><path d="M439.7 396 L452.9 396 L452.9 413.6 L446.1 408 L439.7 413.6 Z" stroke="#000" stroke-width="1.2" fill="#fff"/><line x1="441.7" y1="397" x2="441.7" y2="410.5" stroke="#6a6a6a" stroke-width="2.6"/><line x1="450.9" y1="397" x2="450.9" y2="410.5" stroke="#6a6a6a" stroke-width="2.6"/><path d="M441 396.8 L451.6 396.8 L451.6 399.5 L446.1 401.5 L441 399.5 Z" stroke="#000" stroke-width="0.6" fill="#555"/><rect x="467.1" y="441.5" width="21.9" height="46.5" rx="2" ry="2" stroke="#000" stroke-width="0.9" fill="none"/><line x1="473.9" y1="444.2" x2="483.9" y2="444.2" stroke="#000" stroke-width="1.0"/><line x1="478.9" y1="439.7" x2="478.9" y2="449.2" stroke="#000" stroke-width="1.0"/><circle cx="478.9" cy="444.2" r="1.6" stroke="#000" stroke-width="0.7" fill="none"/><line x1="473.9" y1="485.4" x2="483.9" y2="485.4" stroke="#000" stroke-width="1.0"/><line x1="478.9" y1="480.9" x2="478.9" y2="490.4" stroke="#000" stroke-width="1.0"/><circle cx="478.9" cy="485.4" r="1.6" stroke="#000" stroke-width="0.7" fill="none"/><circle cx="397.25" cy="254.5" r="17" stroke="#000" stroke-width="1.0" fill="none"/><circle cx="397.25" cy="254.5" r="15.5" stroke="#222" stroke-width="0.75" fill="none"/><circle cx="397.25" cy="254.5" r="14" stroke="#222" stroke-width="0.75" fill="none"/><circle cx="397.25" cy="254.5" r="12.5" stroke="#222" stroke-width="0.75" fill="none"/><circle cx="397.25" cy="254.5" r="11" stroke="#111" stroke-width="0.9" fill="none"/><path d="M390.5 250 Q392.5 248.3 395 249.5 Q397.3 248.2 399.6 249.5 Q402.5 248 404.5 250 L405 257 Q404.5 260.5 401 259.5 Q397.5 258 393.5 259.5 Q390.2 260.5 390 257 Z" stroke="#000" stroke-width="0.8" fill="#000"/><circle cx="393.2" cy="252.8" r="1" stroke="#777" stroke-width="0.5" fill="#777"/><circle cx="401.3" cy="252.8" r="1" stroke="#777" stroke-width="0.5" fill="#777"/><circle cx="397.3" cy="256.5" r="1" stroke="#777" stroke-width="0.5" fill="#777"/><path d="M383.5 250 Q387 248 388.5 251 Q387 254 385 254.5 Q388.5 256 387.5 259 Q385.5 261 383.3 259" stroke="#222" stroke-width="1.3" fill="none"/><path d="M411 250.5 Q408 248.5 406.5 251.5 L406.5 257.5 Q408 260.5 411 259" stroke="#222" stroke-width="1.3" fill="none"/><path d="M263.3 261.3 L263.3 271.2" stroke="#000" stroke-width="2.8" fill="none"/><path d="M263.5 266 L272.5 266" stroke="#000" stroke-width="2.0" fill="none"/><path d="M271.5 264.3 L275 266 L271.5 267.7 Z" stroke="#000" stroke-width="0.6" fill="#000"/><path d="M287.8 541 L287.8 537.5 Q287.8 532.8 292 532.8 Q296 532.8 296 537.5 L296.5 539 L300 539.5 L300 541 Z" stroke="#000" stroke-width="0.8" fill="#000"/>
</svg></body></html>
